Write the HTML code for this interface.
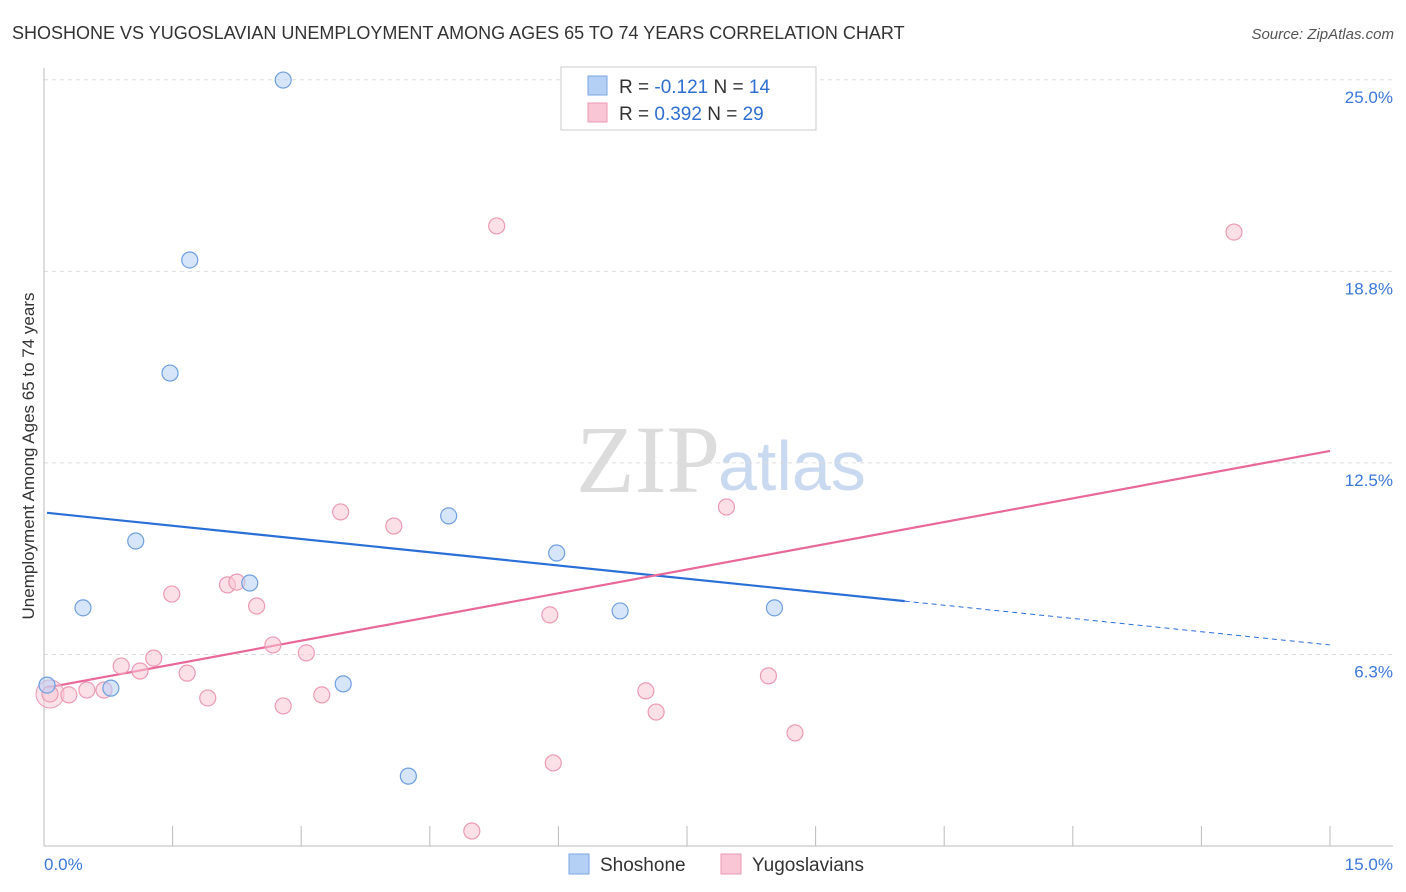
<!DOCTYPE html>
<html><head><meta charset="utf-8">
<style>
body{margin:0;background:#fff;font-family:"Liberation Sans",sans-serif;}
#wrap{position:relative;width:1406px;height:892px;overflow:hidden;}
</style></head>
<body>
<div id="wrap">
<svg id="chart" width="1406" height="892">
<text x="12" y="39" font-size="18" fill="#333">SHOSHONE VS YUGOSLAVIAN UNEMPLOYMENT AMONG AGES 65 TO 74 YEARS CORRELATION CHART</text>
<text x="1394" y="39" font-size="15" fill="#555" text-anchor="end" font-style="italic">Source: ZipAtlas.com</text>
<text x="720" y="492" font-size="96" fill="#dcdcdc" text-anchor="end" font-family="Liberation Serif, serif">ZIP</text>
<text x="718" y="490" font-size="70" fill="#c9d9ef">atlas</text>
<text transform="translate(34,456) rotate(-90)" font-size="17" fill="#333" text-anchor="middle">Unemployment Among Ages 65 to 74 years</text>
<g id="grid"></g><g id="axes"></g><g id="lines"></g><g id="pts"></g>
<g>
<rect x="561" y="67" width="255" height="63" fill="#fff" stroke="#ccc"/>
<rect x="588" y="76" width="19" height="19" fill="#b5d0f5" stroke="#7aa6e3"/>
<rect x="588" y="103" width="19" height="19" fill="#f9c6d5" stroke="#ec9ab4"/>
<text x="619" y="93" font-size="19" fill="#333">R = <tspan fill="#2f6fd0">-0.121</tspan>   N = <tspan fill="#2f6fd0">14</tspan></text>
<text x="619" y="120" font-size="19" fill="#333">R = <tspan fill="#2f6fd0"> 0.392</tspan>   N = <tspan fill="#2f6fd0">29</tspan></text>
</g>
<g>
<rect x="569" y="854" width="20" height="20" fill="#b5d0f5" stroke="#7aa6e3"/>
<text x="600" y="871" font-size="19" fill="#333">Shoshone</text>
<rect x="721" y="854" width="20" height="20" fill="#f9c6d5" stroke="#ec9ab4"/>
<text x="752" y="871" font-size="19" fill="#333">Yugoslavians</text>
</g>
</svg>
</div>
<script>
const yTicks=[6.25,12.5,18.75,25];
const yTickLabels=["6.3%","12.5%","18.8%","25.0%"];
const xTicks=[0,1.5,3,4.5,6,7.5,9,10.5,12,13.5,15];
const shoX=[0.035,0.455,0.78,1.07,1.47,1.70,2.40,2.79,3.49,4.25,4.72,5.98,6.72,8.52];
const shoY=[5.25,7.77,5.15,9.95,15.43,19.12,8.58,24.99,5.29,2.28,10.77,9.56,7.67,7.77];
const yugX=[0.07,0.29,0.50,0.70,0.90,1.12,1.28,1.49,1.67,1.91,2.14,2.25,2.48,2.67,2.79,3.06,3.24,3.46,4.08,4.99,5.28,5.90,5.94,7.02,7.14,7.96,8.45,8.76,13.88];
const yugY=[4.96,4.93,5.09,5.09,5.87,5.71,6.13,8.22,5.64,4.83,8.52,8.61,7.83,6.56,4.57,6.30,4.93,10.90,10.44,0.49,20.23,7.54,2.71,5.06,4.37,11.06,5.55,3.69,20.03];
const shoTrend=[10.88,6.56];
const shoSolidEnd=10.04;
const yugTrend=[5.15,12.89];
const xMax=15;
const X=v=>44+v/15*1286, Y=v=>846-v*30.65;
const NS="http://www.w3.org/2000/svg";
function mk(parent,tag,attrs){const e=document.createElementNS(NS,tag);for(const k in attrs)e.setAttribute(k,attrs[k]);document.getElementById(parent).appendChild(e);return e;}
yTicks.forEach((t,i)=>{
 const l=mk('grid','line',{x1:44,x2:1393,y1:Y(t),y2:Y(t),stroke:'#ddd','stroke-dasharray':'4,4'});
 
 
 const tx=mk('grid','text',{x:1393,y:Y(t)+23,'font-size':17,fill:'#3b78d8','text-anchor':'end'});
 tx.textContent=yTickLabels[i];
 
 
});
const ax=mk('axes','line',{x1:44,x2:44,y1:68,y2:846,stroke:'#bbb'});


const bx=mk('axes','line',{x1:44,x2:1393,y1:846,y2:846,stroke:'#bbb'});


xTicks.forEach(t=>{
 const l=mk('axes','line',{x1:X(t),x2:X(t),y1:826,y2:846,stroke:'#bbb'});
 
 
});
const xl0=mk('axes','text',{x:44,y:870,'font-size':17,fill:'#3b78d8'});xl0.textContent='0.0%';


const xl1=mk('axes','text',{x:1393,y:870,'font-size':17,fill:'#3b78d8','text-anchor':'end'});xl1.textContent='15.0%';


const tY=(tr,x)=>tr[0]+(tr[1]-tr[0])*x/xMax;
function drawPts(xs,ys,fill,stroke,name){xs.forEach((x,i)=>{
 const c=mk('pts','circle',{cx:X(x),cy:Y(ys[i]),r:8,fill:fill,'fill-opacity':0.55,stroke:stroke,'stroke-width':1.2});
 
 
});}
const big=mk('pts','circle',{cx:X(yugX[0]),cy:Y(yugY[0]),r:14,fill:'#f9c6d5','fill-opacity':0.5,stroke:'#ec9ab4'});


drawPts(yugX,yugY,'#f9c6d5','#ec9ab4','yugoslavians-point');
drawPts(shoX,shoY,'#b5d0f5','#6f9fe0','shoshone-point');
const s1=mk('lines','line',{x1:X(0.035),y1:Y(tY(shoTrend,0.035)),x2:X(shoSolidEnd),y2:Y(tY(shoTrend,shoSolidEnd)),stroke:'#2a6fd6','stroke-width':2.2});


const s2=mk('lines','line',{x1:X(shoSolidEnd),y1:Y(tY(shoTrend,shoSolidEnd)),x2:X(15),y2:Y(tY(shoTrend,15)),stroke:'#2a6fd6','stroke-width':1,'stroke-dasharray':'5,4'});


const p1=mk('lines','line',{x1:X(0.035),y1:Y(tY(yugTrend,0.035)),x2:X(15),y2:Y(tY(yugTrend,15)),stroke:'#e8689a','stroke-width':2.2});


</script>
</body></html>
